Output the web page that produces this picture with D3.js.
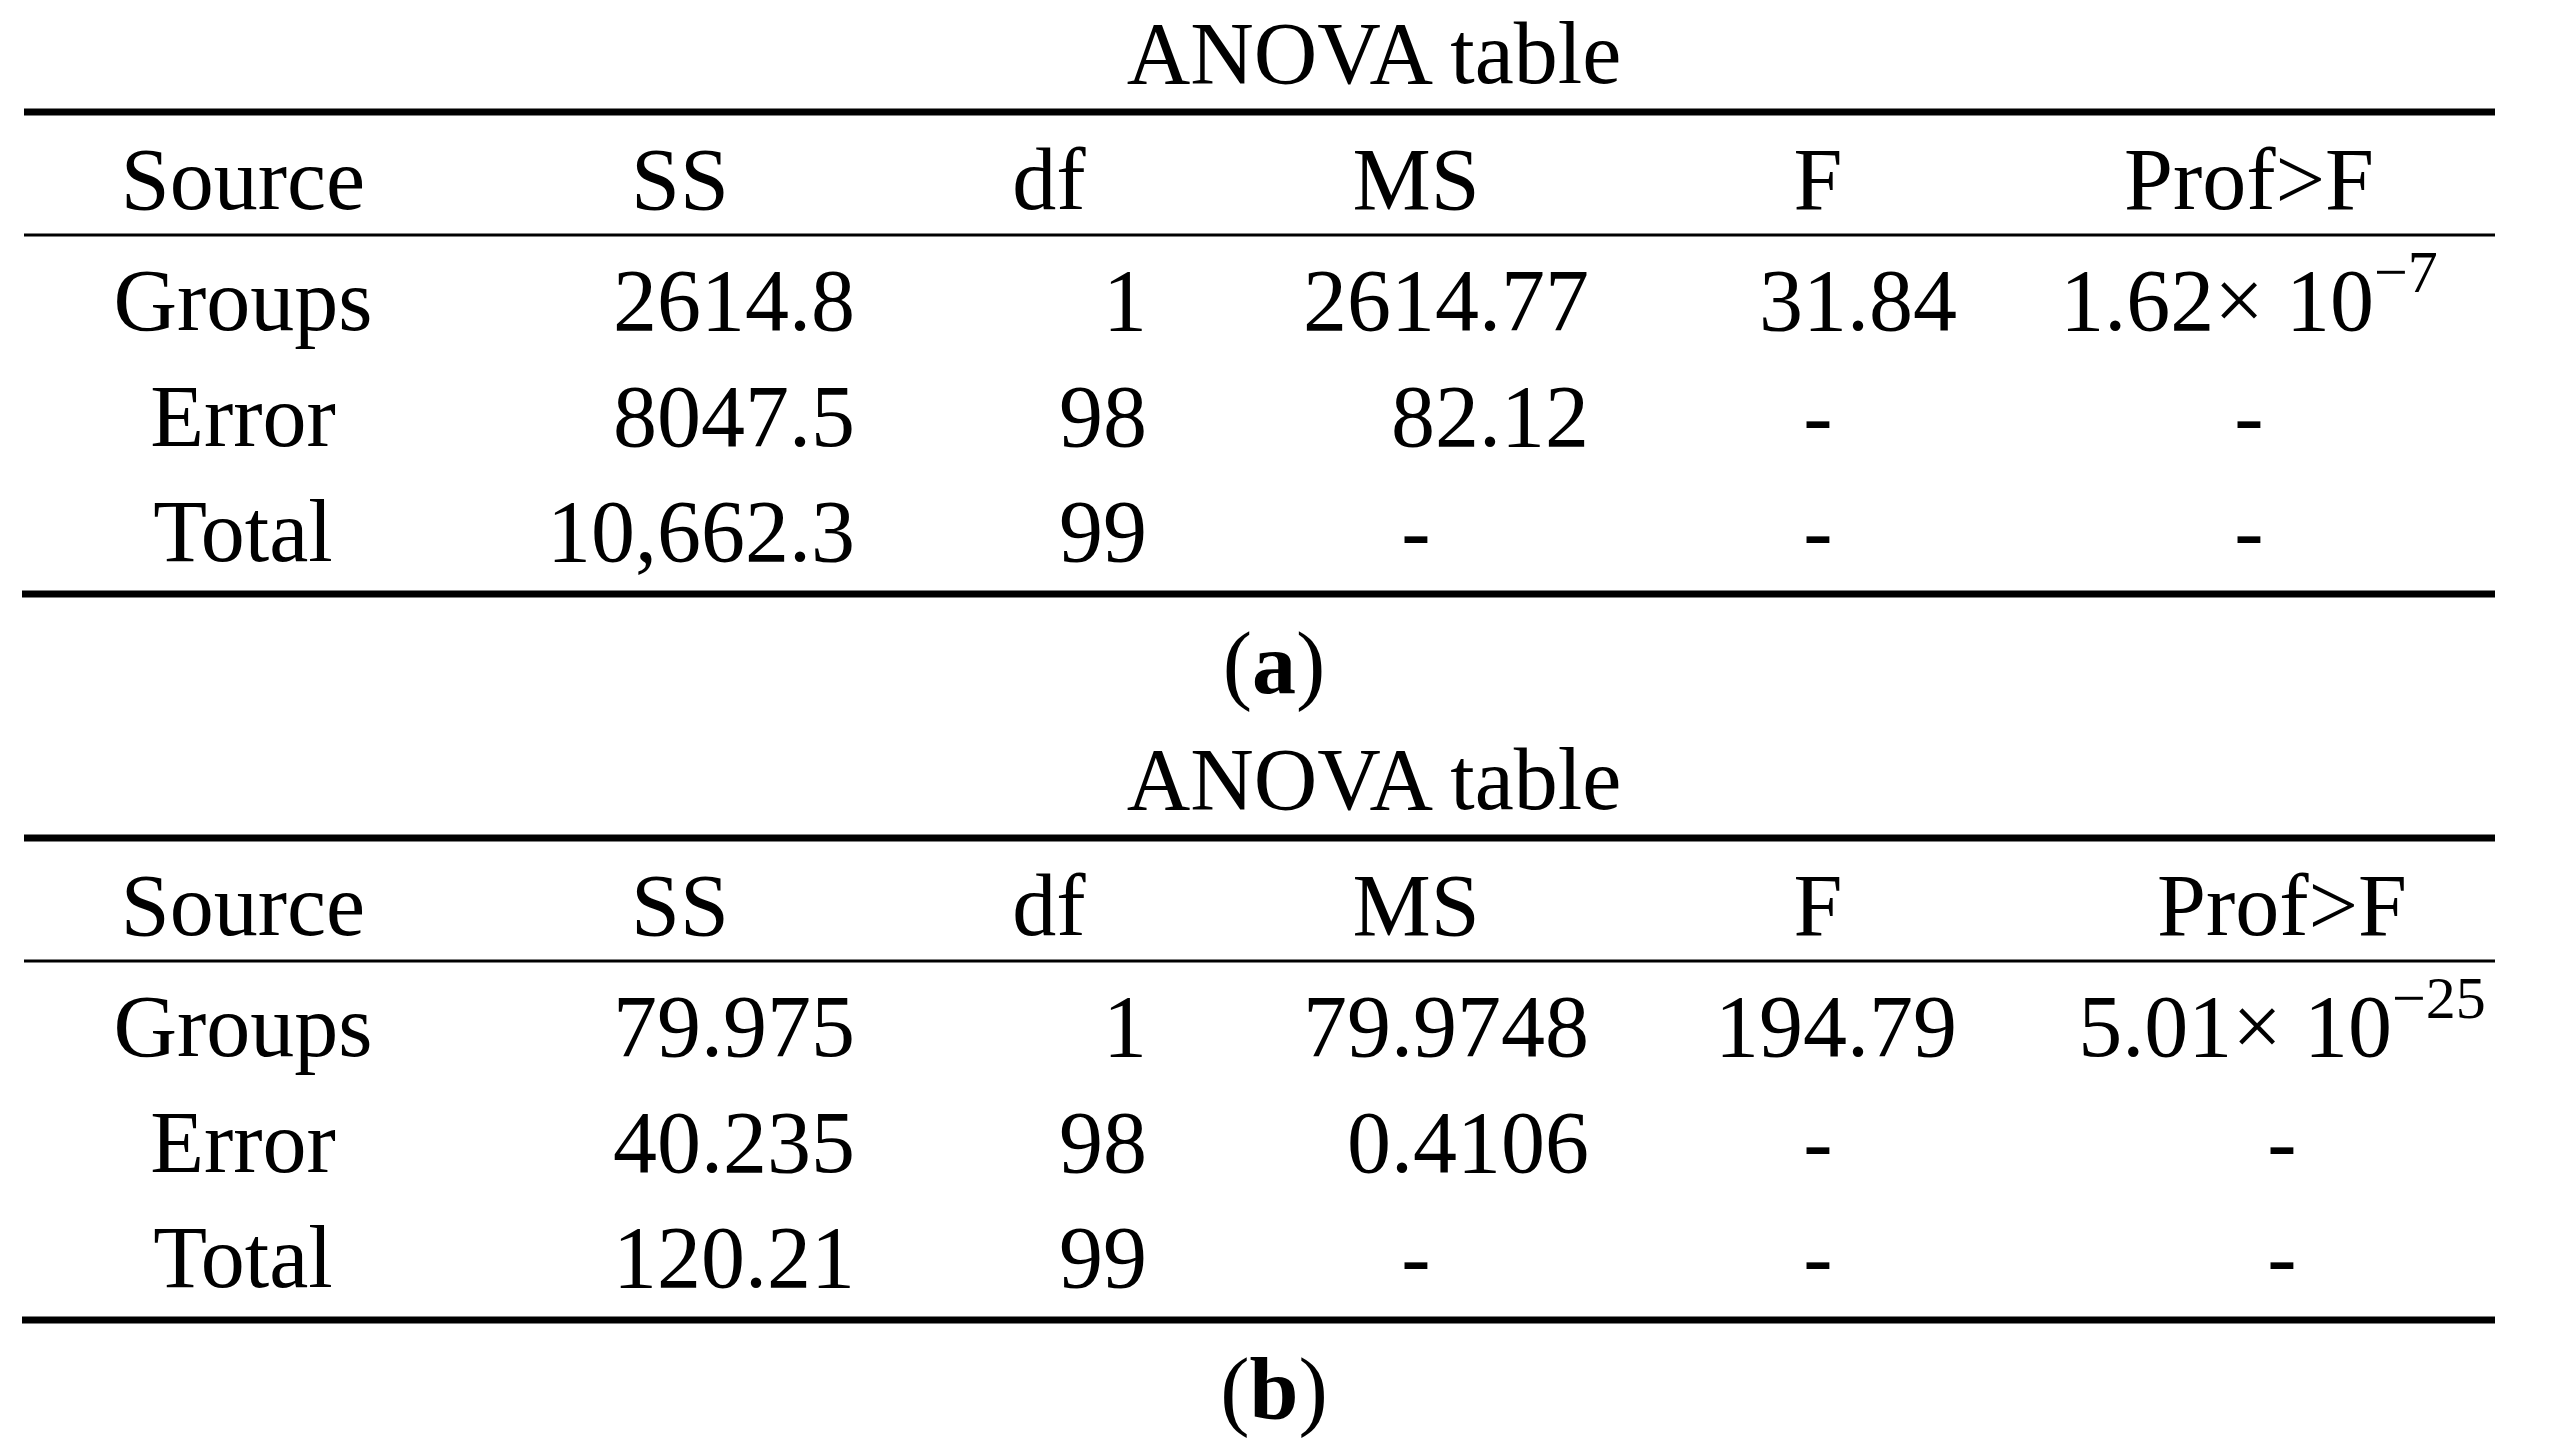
<!DOCTYPE html>
<html>
<head>
<meta charset="utf-8">
<script src="https://cdn.jsdelivr.net/npm/d3@7"></script>
<style>
  body { margin: 0; background: #fff; }
  text { font-family: "Liberation Serif", "DejaVu Serif", serif; fill: #000; }
</style>
</head>
<body>
<div id="chart"></div>
<script>
// Column headers and row labels
var headers = ["Source", "SS", "df", "MS", "F", "Prof>F"];
var sources = ["Groups", "Error", "Total"];

// Table (a)
var ssA = ["2614.8", "8047.5", "10,662.3"];
var dfA = ["1", "98", "99"];
var msA = ["2614.77", "82.12", "-"];
var fA = ["31.84", "-", "-"];
var pA = [["1.62", "−7"], "-", "-"];

// Table (b)
var ssB = ["79.975", "40.235", "120.21"];
var dfB = ["1", "98", "99"];
var msB = ["79.9748", "0.4106", "-"];
var fB = ["194.79", "-", "-"];
var pB = [["5.01", "−25"], "-", "-"];

var W = 2572, H = 1441;
var svg = d3.select("#chart").append("svg")
    .attr("width", W).attr("height", H);

// header centers, and right edges for numbers
var headX = [243, 680, 1049, 1416, 1818, 2249];
var rightX = [null, 855, 1147, 1589, 1957, null];
var fs = 88;

function drawTable(opt) {
    var g = svg.append("g").attr("transform", "translate(0," + opt.top + ")");
    // rows, relative to table top
    var y = d3.scalePoint().domain(sources).range([218, 449]);

    g.append("text").attr("x", 1374).attr("y", -29)
        .attr("text-anchor", "middle").style("font-size", fs + "px")
        .text("ANOVA table");

    g.append("line").attr("x1", 24).attr("x2", 2495).attr("y1", 0).attr("y2", 0)
        .attr("stroke", "#000").attr("stroke-width", 7);
    g.append("line").attr("x1", 24).attr("x2", 2495).attr("y1", 123).attr("y2", 123)
        .attr("stroke", "#000").attr("stroke-width", 3);
    g.append("line").attr("x1", 22).attr("x2", 2495).attr("y1", opt.bottom).attr("y2", opt.bottom)
        .attr("stroke", "#000").attr("stroke-width", 7);

    headers.forEach(function(h, i) {
        g.append("text").attr("x", i == 5 ? opt.pX : headX[i]).attr("y", 97)
            .attr("text-anchor", "middle").style("font-size", fs + "px").text(h);
    });

    var cols = [sources, opt.ss, opt.df, opt.ms, opt.f];
    cols.forEach(function(col, c) {
        col.forEach(function(v, r) {
            var t = g.append("text").attr("y", y(sources[r])).style("font-size", fs + "px").text(v);
            if (c == 0 || v == "-") t.attr("x", headX[c]).attr("text-anchor", "middle");
            else t.attr("x", rightX[c]).attr("text-anchor", "end");
        });
    });

    opt.p.forEach(function(v, r) {
        var t = g.append("text").attr("x", opt.pX).attr("y", y(sources[r]))
            .attr("text-anchor", "middle").style("font-size", fs + "px");
        if (typeof v == "string") { t.text(v); return; }
        t.append("tspan").text(v[0] + "× 10");
        t.append("tspan").attr("dy", -38).style("font-size", "60px").text(v[1]);
    });

    g.append("text").attr("x", 1274).attr("y", opt.bottom + 99)
        .attr("text-anchor", "middle").style("font-size", fs + "px")
        .html("(<tspan font-weight='bold'>" + opt.label + "</tspan>)");
}

drawTable({top: 112, bottom: 482, ss: ssA, df: dfA, ms: msA, f: fA, p: pA, pX: 2249, label: "a"});
drawTable({top: 838, bottom: 482, ss: ssB, df: dfB, ms: msB, f: fB, p: pB, pX: 2282, label: "b"});
</script>
</body>
</html>
